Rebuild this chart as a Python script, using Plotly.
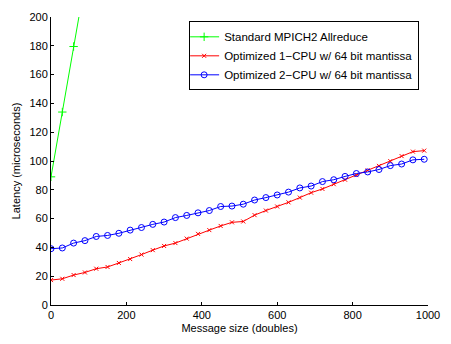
import plotly.graph_objects as go

step = 30
x_std = [0, 30, 60, 90]
y_std = [89, 134, 179.5, 224]

y_1cpu = [17.3, 18.2, 20.8, 22.6, 25.2, 26.4, 29.2, 31.9, 35.0, 38.1,
          41.0, 43.0, 46.1, 49.4, 52.0, 54.9, 57.4, 58.0, 62.4, 65.6,
          68.4, 71.3, 74.6, 78.0, 80.6, 83.9, 87.0, 90.2, 93.5, 96.6,
          99.9, 103.4, 106.5, 107.2]
y_2cpu = [39.1, 39.6, 43.0, 44.7, 47.6, 48.3, 49.8, 52.0, 53.8, 56.0,
          57.6, 60.7, 62.2, 64.0, 65.6, 68.4, 68.7, 70.0, 72.9, 74.6,
          76.4, 78.4, 81.3, 82.6, 85.7, 87.0, 89.3, 91.3, 92.4, 94.1,
          96.8, 97.9, 100.8, 101.2]
x_opt = [i * step for i in range(len(y_1cpu))]

names = ["Standard MPICH2 Allreduce",
         "Optimized 1\u2212CPU w/ 64 bit mantissa",
         "Optimized 2\u2212CPU w/ 64 bit mantissa"]

fig = go.Figure()
fig.add_trace(go.Scatter(x=x_std, y=y_std, name=names[0], mode="lines+markers",
                         line=dict(color="#00ff00", width=1),
                         marker=dict(symbol="cross-thin", size=6,
                                     line=dict(color="#00ff00", width=1))))
fig.add_trace(go.Scatter(x=x_opt, y=y_1cpu, name=names[1], mode="lines+markers",
                         line=dict(color="#ff0000", width=1),
                         marker=dict(symbol="x-thin", size=4,
                                     line=dict(color="#ff0000", width=1))))
fig.add_trace(go.Scatter(x=x_opt, y=y_2cpu, name=names[2], mode="lines+markers",
                         line=dict(color="#0000ff", width=1),
                         marker=dict(symbol="circle-open", size=6,
                                     line=dict(color="#0000ff", width=1))))

fig.update_layout(
    width=451, height=344,
    margin=dict(l=51, r=17, t=11, b=31),
    paper_bgcolor="white", plot_bgcolor="white",
    font=dict(family="Liberation Sans, Arial, sans-serif", size=11, color="black"),
    legend=dict(x=0.9765, y=0.985, xanchor="right", yanchor="top",
                bgcolor="white", bordercolor="black", borderwidth=1,
                font=dict(size=11.5), itemwidth=30, tracegroupgap=0,
                indentation=-6),
    xaxis=dict(range=[0, 1000], tickvals=[0, 200, 400, 600, 800, 1000],
               ticks="inside", ticklen=3, tickcolor="black",
               showline=True, linecolor="black", linewidth=1,
               showgrid=False, zeroline=False,
               title=dict(text="Message size (doubles)", standoff=4,
                          font=dict(size=11))),
    yaxis=dict(range=[0, 200], tickvals=list(range(0, 201, 20)),
               ticks="inside", ticklen=3, tickcolor="black",
               showline=True, linecolor="black", linewidth=1,
               showgrid=False, zeroline=False,
               title=dict(text="Latency (microseconds)", standoff=6,
                          font=dict(size=11))),
)

fig.write_html("out.html")
